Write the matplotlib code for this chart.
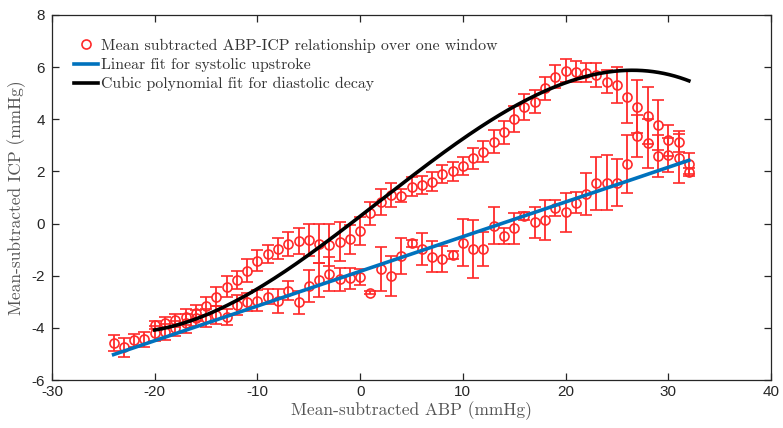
import matplotlib
matplotlib.use("Agg")
import matplotlib.pyplot as plt
from matplotlib.lines import Line2D
import numpy as np

plt.rcParams["axes.unicode_minus"] = False

# systolic upstroke branch (lower points)
x_low = np.arange(-24, 33)
y_low = [-4.59, -4.75, -4.47, -4.44, -4.21, -4.15, -4.02, -3.83, -3.63, -3.63,
         -3.50, -3.57, -3.12, -3.00, -2.95, -2.80, -2.96, -2.57, -3.02, -2.39,
         -2.16, -1.93, -2.14, -2.10, -2.06, -2.65, -1.75, -2.01, -1.24, -0.76,
         -0.97, -1.27, -1.37, -1.20, -0.73, -0.98, -0.99, -0.08, -0.48, -0.18,
         0.30, 0.05, 0.14, 0.59, 0.43, 0.80, 1.13, 1.54, 1.57, 1.57,
         2.29, 3.36, 3.08, 2.59, 2.63, 2.50, 1.99]
e_low = [0.30, 0.35, 0.25, 0.30, 0.30, 0.30, 0.30, 0.35, 0.30, 0.35,
         0.35, 0.30, 0.40, 0.35, 0.40, 0.30, 0.45, 0.35, 0.45, 0.60,
         0.65, 0.65, 0.45, 0.40, 0.30, 0.05, 0.85, 0.75, 0.70, 0.12,
         0.60, 0.60, 0.50, 0.15, 0.90, 1.10, 0.65, 0.70, 0.30, 0.60,
         0.15, 0.60, 0.75, 0.30, 0.75, 0.40, 0.80, 1.00, 1.05, 0.90,
         1.10, 0.80, 0.95, 0.80, 0.65, 0.95, 0.15]

# diastolic decay branch (upper points)
x_up = np.arange(-20, 33)
y_up = [-3.90, -3.80, -3.70, -3.57, -3.44, -3.16, -2.80, -2.42, -2.16, -1.80,
        -1.42, -1.17, -0.96, -0.78, -0.68, -0.63, -0.78, -0.83, -0.69, -0.60,
        -0.28, 0.39, 0.84, 1.10, 1.06, 1.42, 1.48, 1.61, 1.90, 2.00,
        2.21, 2.50, 2.76, 3.14, 3.50, 4.00, 4.46, 4.68, 5.19, 5.64,
        5.87, 5.83, 5.79, 5.70, 5.44, 5.32, 4.87, 4.49, 4.14, 3.78,
        3.20, 3.14, 2.29]
e_up = [0.15, 0.20, 0.25, 0.30, 0.30, 0.35, 0.35, 0.40, 0.35, 0.45,
        0.40, 0.35, 0.40, 0.45, 0.50, 0.60, 0.75, 0.80, 0.75, 0.55,
        0.55, 0.45, 0.50, 0.45, 0.25, 0.35, 0.35, 0.35, 0.35, 0.35,
        0.35, 0.40, 0.40, 0.45, 0.45, 0.50, 0.50, 0.45, 0.45, 0.45,
        0.45, 0.40, 0.35, 0.45, 0.45, 0.70, 1.00, 1.00, 1.10, 0.95,
        0.60, 0.40, 0.40]

# fit coefficients (highest power first)
lin_coef = [0.133, -1.83]
lin_range = (-24, 32)
cub_coef = [-0.00016838, 0.0009503, 0.30437, 0.2803]
cub_range = (-20, 32)

red = "#ff2a2a"
blue = "#0072BD"
serif = "cmr10"

fig = plt.figure(figsize=(7.83, 4.28), dpi=100)
ax = fig.add_axes([0.0664, 0.112, 0.9183, 0.853])

for xs, ys, es in [(x_low, y_low, e_low), (x_up, y_up, e_up)]:
    ax.errorbar(xs, ys, yerr=es, fmt="o", color=red, mfc="none", mec=red,
                ms=6.5, mew=1.2, elinewidth=1.3, capsize=4.5, capthick=1.3,
                zorder=2)

xl = np.linspace(*lin_range, 200)
ax.plot(xl, np.polyval(lin_coef, xl), color=blue, lw=2.6, zorder=3)
xc = np.linspace(*cub_range, 300)
ax.plot(xc, np.polyval(cub_coef, xc), color="black", lw=2.6, zorder=3)

ax.set_xlim(-30, 40)
ax.set_ylim(-6, 8)
ax.set_xticks(range(-30, 41, 10))
ax.set_yticks(range(-6, 9, 2))
ax.tick_params(direction="in", top=True, right=True, length=5, width=0.9,
               labelsize=11, colors="#262626")
ax.tick_params(axis="y", pad=5)
for lab in ax.get_xticklabels() + ax.get_yticklabels():
    lab.set_family("Liberation Sans")
for sp in ax.spines.values():
    sp.set_color("#262626")
    sp.set_linewidth(0.9)

ax.set_xlabel("Mean-subtracted ABP (mmHg)", family=serif, fontsize=12.5,
              color="#555555", labelpad=2)
ax.set_ylabel("Mean-subtracted ICP (mmHg)", family=serif, fontsize=12.5,
              color="#555555", labelpad=4)

handles = [
    Line2D([], [], ls="none", marker="o", mfc="none", mec=red, ms=6.5, mew=1.2),
    Line2D([], [], color=blue, lw=2.6),
    Line2D([], [], color="black", lw=2.6),
]
labels = ["Mean subtracted ABP-ICP relationship over one window",
          "Linear fit for systolic upstroke",
          "Cubic polynomial fit for diastolic decay"]
leg = ax.legend(handles, labels, loc="upper left", frameon=False,
                prop={"family": serif, "size": 11.4}, handlelength=1.5,
                handletextpad=0.2, labelspacing=0.32, borderpad=0,
                borderaxespad=0, bbox_to_anchor=(0.0306, 0.935))
for t in leg.get_texts():
    t.set_color("#333333")

fig.savefig("out.png", dpi=100)
